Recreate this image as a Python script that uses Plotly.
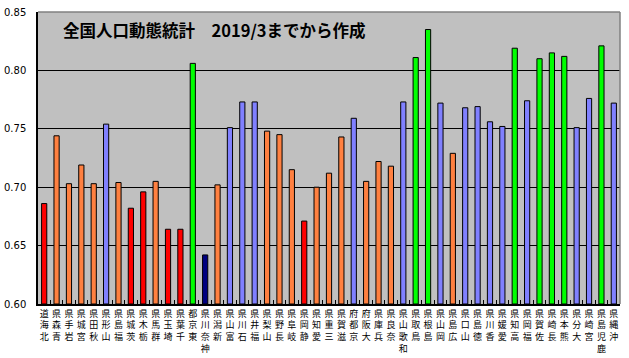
import plotly.graph_objects as go

prefectures = ["北海道", "青森県", "岩手県", "宮城県", "秋田県", "山形県", "福島県", "茨城県",
               "栃木県", "群馬県", "埼玉県", "千葉県", "東京都", "神奈川県", "新潟県", "富山県",
               "石川県", "福井県", "山梨県", "長野県", "岐阜県", "静岡県", "愛知県", "三重県",
               "滋賀県", "京都府", "大阪府", "兵庫県", "奈良県", "和歌山県", "鳥取県", "島根県",
               "岡山県", "広島県", "山口県", "徳島県", "香川県", "愛媛県", "高知県", "福岡県",
               "佐賀県", "長崎県", "熊本県", "大分県", "宮崎県", "鹿児島県", "沖縄県"]

values = [0.686, 0.744, 0.703, 0.719, 0.703, 0.754, 0.704, 0.682,
          0.696, 0.705, 0.664, 0.664, 0.806, 0.642, 0.702, 0.751,
          0.773, 0.773, 0.748, 0.745, 0.715, 0.671, 0.700, 0.712,
          0.743, 0.759, 0.705, 0.722, 0.718, 0.773, 0.811, 0.835,
          0.772, 0.729, 0.768, 0.769, 0.756, 0.752, 0.819, 0.774,
          0.810, 0.815, 0.812, 0.751, 0.776, 0.821, 0.772]

groups = ["r", "o", "o", "o", "o", "b", "o", "r",
          "r", "o", "r", "r", "g", "n", "o", "b",
          "b", "b", "o", "o", "o", "r", "o", "o",
          "o", "b", "o", "o", "o", "b", "g", "g",
          "b", "o", "b", "b", "b", "b", "g", "b",
          "g", "g", "g", "b", "b", "g", "b"]

y_ticks = [0.60, 0.65, 0.70, 0.75, 0.80, 0.85]
title_text = "全国人口動態統計　2019/3までから作成"

palette = {"r": "#FF0000", "o": "#FF8040", "b": "#8080FF", "g": "#00FF00", "n": "#000080"}
colors = [palette[g] for g in groups]
base = y_ticks[0]

fig = go.Figure(go.Bar(
    x=prefectures,
    y=[v - base for v in values],
    base=base,
    marker=dict(color=colors, line=dict(color="black", width=1)),
))

fig.update_layout(
    width=629, height=358,
    margin=dict(l=38, r=9, t=12, b=54, autoexpand=False),
    paper_bgcolor="white",
    plot_bgcolor="#C0C0C0",
    bargap=0.58,
    showlegend=False,
    font=dict(family="DejaVu Sans", color="black"),
    annotations=[dict(
        text="<b>" + title_text + "</b>",
        xref="paper", yref="paper", x=0.04, y=0.94,
        xanchor="left", yanchor="middle", showarrow=False,
        font=dict(family="Noto Sans CJK JP", size=16.5, color="black"),
    )],
    shapes=[
        dict(type="line", xref="paper", yref="paper", x0=0, x1=1, y0=1, y1=1,
             line=dict(color="#808080", width=1.5)),
        dict(type="line", xref="paper", yref="paper", x0=1, x1=1, y0=0, y1=1,
             line=dict(color="#808080", width=1.5)),
    ],
)

fig.update_xaxes(
    tickmode="array",
    tickvals=prefectures,
    ticktext=["<br>".join(reversed(p)) for p in prefectures],
    tickfont=dict(family="Noto Sans CJK JP", size=9, color="black"),
    tickangle=0,
    automargin=False,
    showline=True, linecolor="black", linewidth=1.5,
    ticks="inside", ticklen=4, tickcolor="black", tickson="boundaries",
    showgrid=False,
)

fig.update_yaxes(
    range=[y_ticks[0], y_ticks[-1]],
    tickvals=y_ticks,
    ticktext=[f"{t:.2f}" for t in y_ticks],
    tickfont=dict(family="DejaVu Sans", size=10, color="black"),
    automargin=False,
    showline=True, linecolor="black", linewidth=1.5,
    ticks="inside", ticklen=4, tickcolor="black",
    showgrid=True, gridcolor="black", gridwidth=1,
    zeroline=False,
    ticklabelstandoff=8,
)

fig.write_html(
    "out.html",
    config={"displayModeBar": False},
    post_script="document.body.style.margin='0px';document.body.style.overflow='hidden';",
)
